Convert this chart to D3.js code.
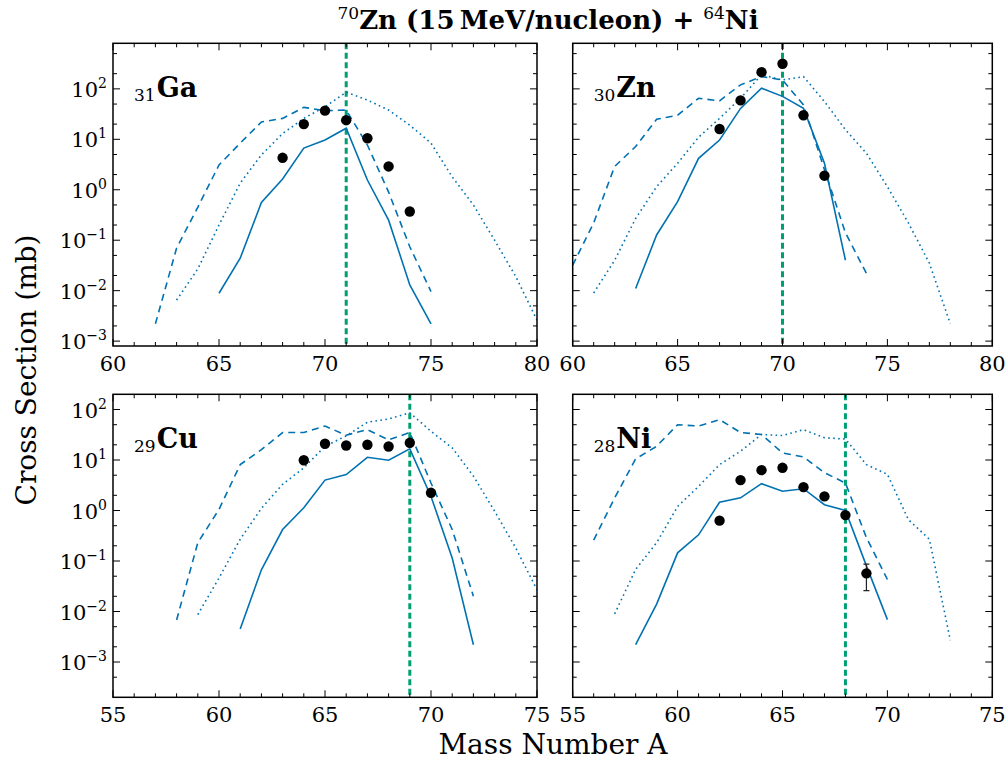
<!DOCTYPE html>
<html>
<head>
<meta charset="utf-8">
<script src="https://cdn.jsdelivr.net/npm/d3@7/dist/d3.min.js"></script>
<style>
body { margin: 0; background: #fff; }
</style>
</head>
<body>
<div id="chart"></div>
<script>
// Cross sections (mb), [mass number, value]
var gaSolid  = [[65,0.0089],[66,0.044],[67,0.56],[68,1.64],[69,6.7],[70,9.7],[71,16.6],[72,1.56],[73,0.25],[74,0.013],[75,0.0022]];
var gaDashed = [[62,0.0022],[63,0.07],[64,0.45],[65,3.1],[66,8.4],[67,22],[68,26],[69,43],[70,37],[71,38],[72,7.7],[73,0.9],[74,0.074],[75,0.0096]];
var gaDotted = [[63,0.0065],[64,0.027],[65,0.2],[66,1.35],[67,4.9],[68,13],[69,26],[70,44],[71,86],[72,60],[73,38],[74,19],[75,8.4],[76,1.8],[77,0.5],[78,0.1],[79,0.019],[80,0.0026]];
var gaExp    = [[68,4.3],[69,20],[70,37],[71,24],[72,10.5],[73,2.9],[74,0.37]];

var znSolid  = [[63,0.011],[64,0.127],[65,0.58],[66,4.2],[67,9.7],[68,41],[69,103],[70,71],[71,41],[72,3.35],[73,0.04]];
var znDashed = [[60,0.032],[61,0.22],[62,2.9],[63,7.2],[64,25],[65,30],[66,65],[67,58],[68,120],[69,175],[70,150],[71,48],[72,2.5],[73,0.14],[74,0.022]];
var znDotted = [[61,0.009],[62,0.04],[63,0.27],[64,1.15],[65,3.35],[66,11],[67,26],[68,65],[69,190],[70,150],[71,175],[72,56],[73,15.5],[74,5.3],[75,1.15],[76,0.22],[77,0.035],[78,0.0022]];
var znExp    = [[67,16],[68,59],[69,214],[70,314],[71,30],[72,1.9]];

var cuSolid  = [[61,0.0045],[62,0.067],[63,0.42],[64,1.13],[65,4],[66,5.15],[67,11.3],[68,9.9],[69,16.6],[70,1.9],[71,0.115],[72,0.0022]];
var cuDashed = [[58,0.0068],[59,0.23],[60,1.05],[61,8.1],[62,16],[63,35],[64,35],[65,47],[66,31],[67,40],[68,25],[69,35],[70,3.5],[71,0.42],[72,0.02]];
var cuDotted = [[59,0.0087],[60,0.046],[61,0.27],[62,1.1],[63,3.3],[64,7],[65,18.7],[66,30],[67,56],[68,65],[69,86],[70,37],[71,17.4],[72,4.8],[73,0.97],[74,0.18],[75,0.027]];
var cuExp    = [[64,9.9],[65,21],[66,19.4],[67,20],[68,18.5],[69,21.9],[70,2.24]];

var niSolid  = [[58,0.0022],[59,0.014],[60,0.145],[61,0.33],[62,1.46],[63,1.78],[64,3.4],[65,2.4],[66,2.7],[67,1.3],[68,1.0],[69,0.08],[70,0.0069]];
var niDashed = [[56,0.26],[57,1.78],[58,10.5],[59,18.7],[60,50],[61,47],[62,63],[63,35],[64,32],[65,13.8],[66,11.5],[67,5.6],[68,3.5],[69,0.29],[70,0.043]];
var niDotted = [[57,0.009],[58,0.068],[59,0.23],[60,1.2],[61,3.0],[62,8.1],[63,14.9],[64,32],[65,30.5],[66,40],[67,27.5],[68,26],[69,8.1],[70,5.2],[71,0.66],[72,0.27],[73,0.0027]];
var niExp    = [[62,0.63],[63,4.0],[64,6.3],[65,7.0],[66,2.9],[67,1.9],[68,0.81],[69,0.057]];
var niErr    = [[69,0.026,0.087]];

// projectile mass marks and axis ranges
var elements  = ["Ga","Zn","Cu","Ni"];
var charges   = ["31","30","29","28"];
var markA     = [71,70,69,68];
var topXTicks = [60,65,70,75,80];
var botXTicks = [55,60,65,70,75];
var yExps     = [-3,-2,-1,0,1,2];

var blue = "#0072b2", green = "#009e73";
var serif = "'DejaVu Serif', serif";

var svg = d3.select("#chart").append("svg")
    .attr("width", 1007)
    .attr("height", 760)
    .attr("font-family", serif);

var panels = [
  {el:0, left:113,   right:537,   top:43.3,  bottom:346,   xdom:[60,80], ydom:[8e-4,8e2], xt:topXTicks, lab:true,  d:[gaSolid,gaDashed,gaDotted,gaExp,[]]},
  {el:1, left:572.7, right:992.3, top:43.3,  bottom:346,   xdom:[60,80], ydom:[8e-4,8e2], xt:topXTicks, lab:false, d:[znSolid,znDashed,znDotted,znExp,[]]},
  {el:2, left:113,   right:537,   top:394.3, bottom:697.3, xdom:[55,75], ydom:[2e-4,2e2], xt:botXTicks, lab:true,  d:[cuSolid,cuDashed,cuDotted,cuExp,[]]},
  {el:3, left:572.7, right:992.3, top:394.3, bottom:697.3, xdom:[55,75], ydom:[2e-4,2e2], xt:botXTicks, lab:false, d:[niSolid,niDashed,niDotted,niExp,niErr]}
];

var minorY = [];
for (var e = -4; e <= 2; e++) { minorY.push(2 * Math.pow(10, e)); minorY.push(5 * Math.pow(10, e)); }

panels.forEach(function(p, i) {
  var x = d3.scaleLinear().domain(p.xdom).range([p.left, p.right]);
  var y = d3.scaleLog().domain(p.ydom).range([p.bottom, p.top]);
  var g = svg.append("g");

  g.append("clipPath").attr("id", "clip" + i)
    .append("rect")
    .attr("x", p.left).attr("y", p.top)
    .attr("width", p.right - p.left).attr("height", p.bottom - p.top);

  var plot = g.append("g").attr("clip-path", "url(#clip" + i + ")");

  // projectile line
  plot.append("line")
    .attr("x1", x(markA[p.el])).attr("x2", x(markA[p.el]))
    .attr("y1", p.top).attr("y2", p.bottom)
    .attr("stroke", green)
    .attr("stroke-width", 3)
    .attr("stroke-dasharray", "6,3.5");

  var line = d3.line().x(function(d) { return x(d[0]); }).y(function(d) { return y(d[1]); });
  var styles = [null, "7,5", "1.6,3.4"];
  [0, 1, 2].forEach(function(k) {
    plot.append("path")
      .datum(p.d[k])
      .attr("d", line)
      .attr("fill", "none")
      .attr("stroke", blue)
      .attr("stroke-width", 1.6)
      .attr("stroke-dasharray", styles[k]);
  });

  // error bars
  p.d[4].forEach(function(d) {
    var eb = plot.append("g").attr("stroke", "#222").attr("stroke-width", 1.2);
    eb.append("line").attr("x1", x(d[0])).attr("x2", x(d[0])).attr("y1", y(d[1])).attr("y2", y(d[2]));
    eb.append("line").attr("x1", x(d[0]) - 3).attr("x2", x(d[0]) + 3).attr("y1", y(d[1])).attr("y2", y(d[1]));
    eb.append("line").attr("x1", x(d[0]) - 3).attr("x2", x(d[0]) + 3).attr("y1", y(d[2])).attr("y2", y(d[2]));
  });

  plot.selectAll("circle").data(p.d[3]).enter().append("circle")
    .attr("cx", function(d) { return x(d[0]); })
    .attr("cy", function(d) { return y(d[1]); })
    .attr("r", 5.2)
    .attr("fill", "#000");

  // ticks, all four sides, pointing in
  var tk = g.append("g").attr("stroke", "#000").attr("stroke-width", 1);
  d3.range(p.xdom[0], p.xdom[1] + 1).forEach(function(v) {
    var len = (v % 5 === 0) ? 7 : 4;
    tk.append("line").attr("x1", x(v)).attr("x2", x(v)).attr("y1", p.bottom).attr("y2", p.bottom - len);
    tk.append("line").attr("x1", x(v)).attr("x2", x(v)).attr("y1", p.top).attr("y2", p.top + len);
  });
  yExps.forEach(function(ex) {
    var yy = y(Math.pow(10, ex));
    tk.append("line").attr("x1", p.left).attr("x2", p.left + 7).attr("y1", yy).attr("y2", yy);
    tk.append("line").attr("x1", p.right).attr("x2", p.right - 7).attr("y1", yy).attr("y2", yy);
  });
  minorY.filter(function(v) { return v > p.ydom[0] && v < p.ydom[1]; }).forEach(function(v) {
    var yy = y(v);
    tk.append("line").attr("x1", p.left).attr("x2", p.left + 4).attr("y1", yy).attr("y2", yy);
    tk.append("line").attr("x1", p.right).attr("x2", p.right - 4).attr("y1", yy).attr("y2", yy);
  });

  g.append("rect")
    .attr("x", p.left).attr("y", p.top)
    .attr("width", p.right - p.left).attr("height", p.bottom - p.top)
    .attr("fill", "none")
    .attr("stroke", "#000")
    .attr("stroke-width", 1.5);

  // x tick labels
  g.selectAll(".xl").data(p.xt).enter().append("text")
    .attr("x", function(d) { return x(d); })
    .attr("y", p.bottom + 25)
    .attr("text-anchor", "middle")
    .attr("font-size", 21)
    .text(function(d) { return d; });

  // y tick labels
  if (p.lab) {
    yExps.forEach(function(ex) {
      var t = g.append("text")
        .attr("x", p.left - 6)
        .attr("y", y(Math.pow(10, ex)) + 8)
        .attr("text-anchor", "end")
        .attr("font-size", 21);
      t.append("tspan").text("10");
      t.append("tspan").attr("dy", -9).attr("font-size", 14).text(ex < 0 ? "\u2212" + (-ex) : ex);
    });
  }

  // element label
  var lbl = g.append("text")
    .attr("x", p.left + 21)
    .attr("y", p.top + 54)
    .attr("font-weight", "bold");
  lbl.append("tspan").attr("font-size", 17).attr("font-weight", "normal").attr("dy", 4).text(charges[p.el]);
  lbl.append("tspan").attr("font-size", 27).attr("dy", -4).attr("dx", 1).text(elements[p.el]);
});

// title
var title = svg.append("text")
  .attr("x", 548)
  .attr("y", 29)
  .attr("text-anchor", "middle")
  .attr("font-size", 26)
  .attr("font-weight", "bold");
title.append("tspan").attr("font-size", 17).attr("font-weight", "normal").attr("dy", -10).text("70");
title.append("tspan").attr("dy", 10).text("Zn (15\u2009MeV/nucleon) + ");
title.append("tspan").attr("font-size", 17).attr("font-weight", "normal").attr("dy", -10).text("64");
title.append("tspan").attr("dy", 10).text("Ni");

svg.append("text")
  .attr("transform", "translate(36,370) rotate(-90)")
  .attr("text-anchor", "middle")
  .attr("font-size", 28)
  .text("Cross Section (mb)");

svg.append("text")
  .attr("x", 553)
  .attr("y", 754)
  .attr("text-anchor", "middle")
  .attr("font-size", 28)
  .text("Mass Number A");
</script>
</body>
</html>
